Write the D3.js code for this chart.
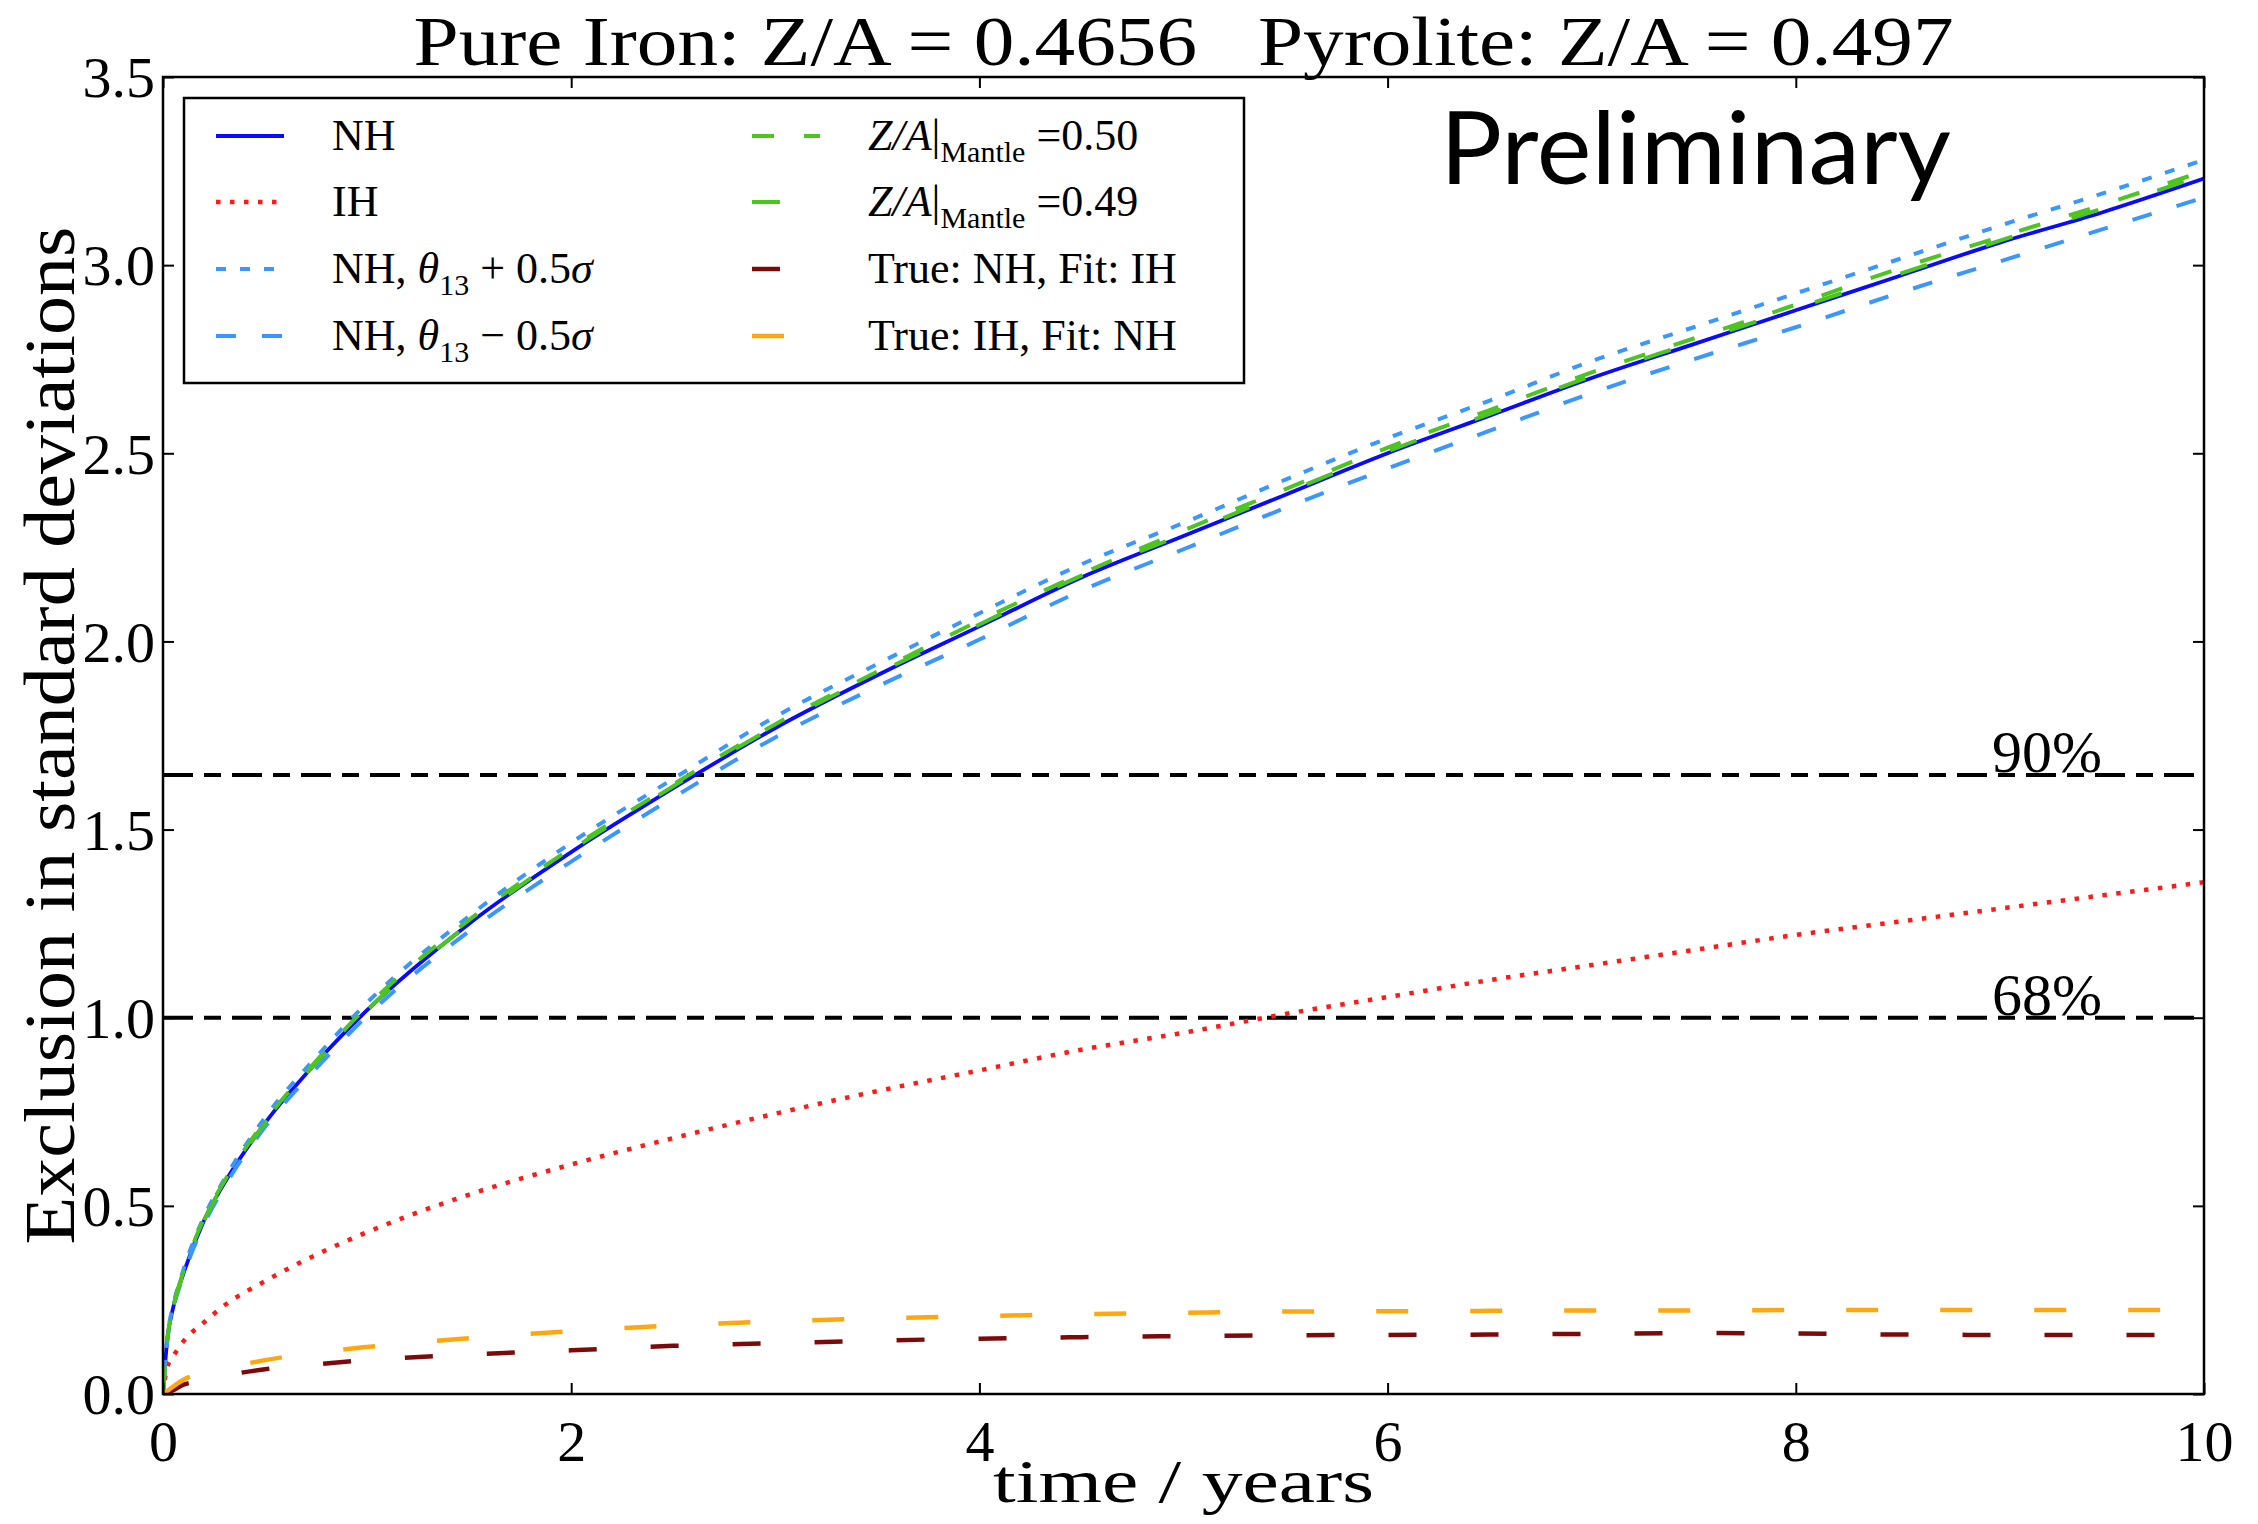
<!DOCTYPE html>
<html>
<head>
<meta charset="utf-8">
<script src="https://cdn.jsdelivr.net/npm/d3@7"></script>
<style>
  body { margin: 0; background: #fff; }
  text { font-family: "Liberation Serif", "DejaVu Serif", serif; fill: #000; }
</style>
</head>
<body>
<svg id="chart"></svg>
<script>
// time in years
const years = [0, 0.02, 0.05, 0.1, 0.2, 0.3, 0.5, 0.75, 1, 1.5, 2, 2.5, 3, 3.5, 4, 4.5, 5, 5.5, 6, 6.5, 7, 7.5, 8, 8.5, 9, 9.5, 10]

// exclusion in standard deviations
const nh      = [0, 0.14, 0.23, 0.32, 0.46, 0.56, 0.72, 0.88, 1.02, 1.25, 1.44, 1.61, 1.77, 1.91, 2.04, 2.17, 2.28, 2.39, 2.50, 2.60, 2.70, 2.79, 2.88, 2.97, 3.06, 3.14, 3.23]
const ih      = [0, 0.07, 0.10, 0.14, 0.19, 0.235, 0.30, 0.37, 0.43, 0.53, 0.61, 0.68, 0.745, 0.805, 0.86, 0.915, 0.96, 1.01, 1.055, 1.10, 1.14, 1.18, 1.22, 1.255, 1.29, 1.325, 1.36]
const nhPlus  = [0, 0.145, 0.235, 0.33, 0.47, 0.57, 0.735, 0.895, 1.04, 1.27, 1.465, 1.635, 1.80, 1.94, 2.075, 2.205, 2.315, 2.43, 2.54, 2.64, 2.745, 2.835, 2.925, 3.015, 3.105, 3.19, 3.28]
const nhMinus = [0, 0.135, 0.225, 0.315, 0.45, 0.55, 0.71, 0.865, 1.005, 1.23, 1.415, 1.585, 1.745, 1.88, 2.005, 2.135, 2.245, 2.355, 2.46, 2.56, 2.66, 2.75, 2.835, 2.925, 3.01, 3.095, 3.18]
const za050   = [0, 0.14, 0.23, 0.325, 0.465, 0.565, 0.725, 0.885, 1.03, 1.26, 1.45, 1.62, 1.78, 1.92, 2.055, 2.18, 2.295, 2.405, 2.515, 2.615, 2.715, 2.805, 2.895, 2.99, 3.075, 3.16, 3.25]
const za049   = [0, 0.14, 0.23, 0.32, 0.46, 0.56, 0.72, 0.88, 1.02, 1.25, 1.445, 1.615, 1.775, 1.915, 2.045, 2.175, 2.285, 2.395, 2.505, 2.605, 2.705, 2.795, 2.885, 2.975, 3.065, 3.15, 3.24]
const nhFitIh = [0, 0.004, 0.01, 0.025, 0.035, 0.048, 0.066, 0.079, 0.09, 0.105, 0.116, 0.128, 0.135, 0.142, 0.147, 0.151, 0.154, 0.156, 0.157, 0.158, 0.16, 0.162, 0.161, 0.158, 0.157, 0.157, 0.157]
const ihFitNh = [0, 0.008, 0.02, 0.038, 0.055, 0.068, 0.09, 0.11, 0.125, 0.148, 0.167, 0.182, 0.193, 0.201, 0.207, 0.212, 0.216, 0.219, 0.22, 0.221, 0.222, 0.222, 0.223, 0.223, 0.223, 0.223, 0.223]

const levels = [1.0, 1.645]
const levelLabels = ["68%", "90%"]
const xTicks = [0, 2, 4, 6, 8, 10]
const yTicks = [0, 0.5, 1.0, 1.5, 2.0, 2.5, 3.0, 3.5]

const width = 2258, height = 1524
const margin = {top: 77, right: 54, bottom: 130, left: 163},
      bodyWidth = width - margin.left - margin.right,
      bodyHeight = height - margin.top - margin.bottom

const xScale = d3.scaleLinear().domain([0, 10]).range([0, bodyWidth])
const yScale = d3.scaleLinear().domain([0, 3.5]).range([bodyHeight, 0])

const svg = d3.select("#chart").attr("width", width).attr("height", height)
const body = svg.append("g").attr("transform", `translate(${margin.left},${margin.top})`)

const series = [
  {values: nh,      color: "#0a0aff", width: 3.8, dash: null},
  {values: ih,      color: "#ff1a1a", width: 4.5, dash: "4.5,9.5"},
  {values: nhPlus,  color: "#3b97ff", width: 4,   dash: "10,14"},
  {values: nhMinus, color: "#3b97ff", width: 4,   dash: "20,26"},
  {values: za050,   color: "#4cc51f", width: 4,   dash: "22,30"},
  {values: za049,   color: "#4cc51f", width: 4,   dash: "28,62"},
  {values: nhFitIh, color: "#7d0a0a", width: 4.5, dash: "28,54"},
  {values: ihFitNh, color: "#ffa70f", width: 4.5, dash: "32,62"}
]

const line = d3.line()
  .x((d, i) => xScale(years[i]))
  .y(d => yScale(d))
  .curve(d3.curveMonotoneX)

body.append("clipPath").attr("id", "clip")
  .append("rect").attr("width", bodyWidth).attr("height", bodyHeight)

const plot = body.append("g").attr("clip-path", "url(#clip)")

// confidence levels
plot.selectAll(".level")
  .data(levels)
  .enter().append("line")
  .attr("x1", 0).attr("x2", bodyWidth)
  .attr("y1", d => yScale(d)).attr("y2", d => yScale(d))
  .attr("stroke", "#000")
  .attr("stroke-width", 4)
  .attr("stroke-dasharray", "30,11,17,11")

plot.selectAll(".curve")
  .data(series)
  .enter().append("path")
  .attr("d", d => line(d.values))
  .attr("fill", "none")
  .attr("stroke", d => d.color)
  .attr("stroke-width", d => d.width)
  .attr("stroke-dasharray", d => d.dash)

body.selectAll(".levelLabel")
  .data(levels)
  .enter().append("text")
  .attr("x", xScale(9.5))
  .attr("y", d => yScale(d) - 3)
  .attr("text-anchor", "end")
  .style("font-size", "60px")
  .text((d, i) => levelLabels[i])

// axes, ticks pointing inwards on every side
const tick = 11
const xAxis = d3.axisBottom(xScale).tickValues(xTicks).tickSize(-tick).tickPadding(26).tickFormat(d3.format("d"))
const yAxis = d3.axisLeft(yScale).tickValues(yTicks).tickSize(-tick).tickPadding(8).tickFormat(d3.format(".1f"))

const gx = body.append("g").attr("transform", `translate(0,${bodyHeight})`).call(xAxis)
const gy = body.append("g").call(yAxis)
const gt = body.append("g").call(d3.axisTop(xScale).tickValues(xTicks).tickSize(-tick).tickFormat(""))
const gr = body.append("g").attr("transform", `translate(${bodyWidth},0)`)
  .call(d3.axisRight(yScale).tickValues(yTicks).tickSize(-tick).tickFormat(""))

;[gx, gy, gt, gr].forEach(g => {
  g.attr("font-family", null)
  g.select(".domain").remove()
  g.selectAll(".tick line").attr("stroke", "#000").attr("stroke-width", 2)
  g.selectAll("text")
    .style("font-family", "'Liberation Serif', serif")
    .style("font-size", "58px")
    .attr("fill", "#000")
})
gy.selectAll("text").attr("dy", "0.34em")

body.append("rect")
  .attr("width", bodyWidth).attr("height", bodyHeight)
  .attr("fill", "none").attr("stroke", "#000").attr("stroke-width", 2.5)

// titles
svg.append("text")
  .attr("x", margin.left + bodyWidth / 2)
  .attr("y", 65)
  .attr("text-anchor", "middle")
  .attr("textLength", 1540)
  .attr("lengthAdjust", "spacingAndGlyphs")
  .attr("xml:space", "preserve")
  .style("font-size", "70px")
  .text("Pure Iron: Z/A = 0.4656   Pyrolite: Z/A = 0.497")

svg.append("text")
  .attr("x", margin.left + bodyWidth / 2)
  .attr("y", 1502)
  .attr("text-anchor", "middle")
  .attr("textLength", 381)
  .attr("lengthAdjust", "spacingAndGlyphs")
  .style("font-size", "62px")
  .text("time / years")

svg.append("text")
  .attr("transform", `translate(74,${margin.top + bodyHeight / 2}) rotate(-90)`)
  .attr("text-anchor", "middle")
  .attr("textLength", 1018)
  .attr("lengthAdjust", "spacingAndGlyphs")
  .style("font-size", "72px")
  .text("Exclusion in standard deviations")

svg.append("text")
  .attr("x", 1440)
  .attr("y", 184)
  .attr("textLength", 511)
  .attr("lengthAdjust", "spacingAndGlyphs")
  .style("font-family", "Lato, 'Open Sans', sans-serif")
  .style("font-size", "100px")
  .text("Preliminary")

// legend
const legend = svg.append("g")
legend.append("rect")
  .attr("x", 184).attr("y", 98).attr("width", 1060).attr("height", 285)
  .attr("fill", "#fff").attr("stroke", "#000").attr("stroke-width", 2.5)

const legendRows = [136, 202, 269, 336]
const legendCols = [216, 752]
const legendParts = [
  [["NH"]],
  [["IH"]],
  [["NH, "], ["θ", "i"], ["13", "s"], [" + 0.5"], ["σ", "i"]],
  [["NH, "], ["θ", "i"], ["13", "s"], [" − 0.5"], ["σ", "i"]],
  [["Z/A", "i"], ["|"], ["Mantle", "s"], [" =0.50"]],
  [["Z/A", "i"], ["|"], ["Mantle", "s"], [" =0.49"]],
  [["True: NH, Fit: IH"]],
  [["True: IH, Fit: NH"]]
]

const entries = legend.selectAll(".entry")
  .data(series)
  .enter().append("g")
  .attr("transform", (d, i) => `translate(${legendCols[Math.floor(i / 4)]},${legendRows[i % 4]})`)

entries.append("line")
  .attr("x1", 0).attr("x2", 68)
  .attr("stroke", d => d.color)
  .attr("stroke-width", d => d.width)
  .attr("stroke-dasharray", d => d.dash)

entries.append("text")
  .attr("x", 116)
  .attr("y", 14)
  .attr("xml:space", "preserve")
  .style("font-size", "44px")
  .each(function(d, i) {
    const t = d3.select(this)
    let sub = false
    legendParts[i].forEach(p => {
      const s = t.append("tspan").text(p[0])
      if (p[1] === "i") s.style("font-style", "italic")
      if (p[1] === "s") { s.attr("dy", 12).style("font-size", "30px"); sub = true }
      else if (sub) { s.attr("dy", -12); sub = false }
    })
  })
</script>
</body>
</html>
